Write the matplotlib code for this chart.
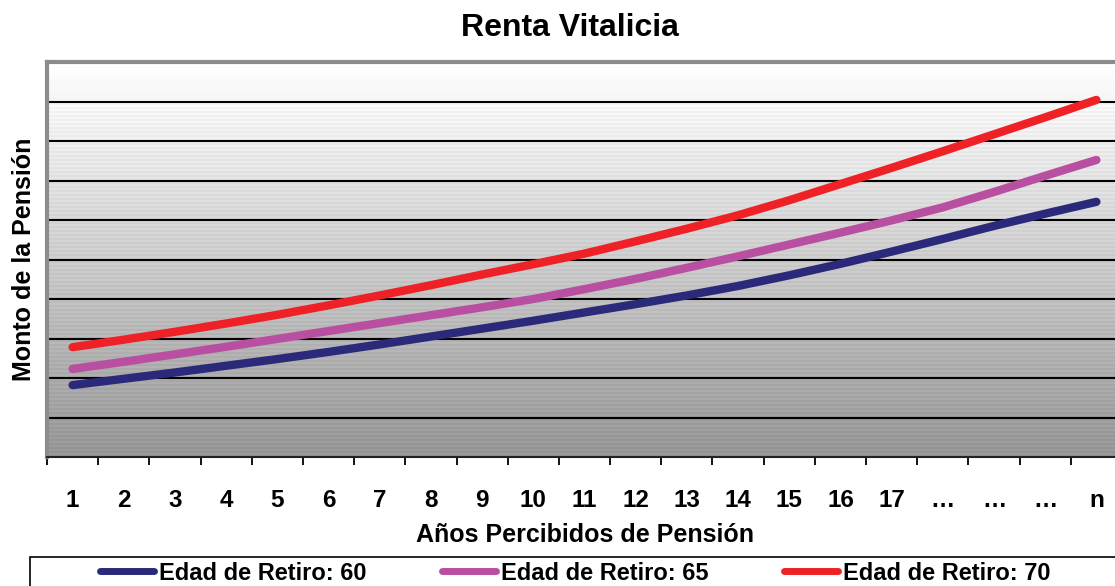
import matplotlib
matplotlib.use('Agg')
import matplotlib.pyplot as plt
from matplotlib.lines import Line2D
from matplotlib.patches import Rectangle
import numpy as np

plt.rcParams['font.family'] = ['Liberation Sans', 'DejaVu Sans']

# Años percibidos (categorías del eje x)
x_labels = [str(i) for i in range(1, 18)] + ['…', '…', '…', 'n']

# Monto de la pensión (unidades relativas)
retiro_60 = [1.82, 1.98, 2.14, 2.31, 2.48, 2.66, 2.85, 3.05, 3.25, 3.45, 3.66,
             3.87, 4.09, 4.33, 4.60, 4.89, 5.20, 5.52, 5.85, 6.16, 6.46]
retiro_65 = [2.23, 2.41, 2.60, 2.79, 2.99, 3.19, 3.39, 3.59, 3.79, 4.00, 4.25,
             4.51, 4.79, 5.08, 5.38, 5.68, 5.99, 6.32, 6.71, 7.12, 7.52]
retiro_70 = [2.78, 2.97, 3.17, 3.38, 3.60, 3.84, 4.09, 4.35, 4.62, 4.88, 5.15,
             5.46, 5.78, 6.12, 6.50, 6.91, 7.32, 7.74, 8.17, 8.60, 9.04]
series_names = ['Edad de Retiro: 60', 'Edad de Retiro: 65', 'Edad de Retiro: 70']
colors = ['#2B2A7A', '#B94FA0', '#EE2226']

fig = plt.figure(figsize=(11.15, 5.86), dpi=100)
fig.patch.set_facecolor('white')
ax = fig.add_axes([47/1115, 129/586, 1075/1115, 395/586])

x = np.arange(1, len(x_labels) + 1)
ax.set_xlim(0.5, len(x_labels) + 0.5)
ax.set_ylim(0, 10)

# gradient background with fine light stripes
rows = 200
shade = np.linspace(1.0, 0.60, rows) ** 1.1
stripes = np.where(np.arange(rows) % 2 == 0, 0.03, 0.0)
stripes[:20] = 0
img = np.clip(shade + stripes, 0, 1)[:, None]
ax.imshow(img, cmap='gray', vmin=0, vmax=1, aspect='auto',
          extent=[0.5, len(x_labels) + 0.5, 0, 10], origin='upper', zorder=0,
          interpolation='nearest')

for yv in range(1, 10):
    ax.axhline(yv, color='black', lw=1.5, zorder=1)

for vals, col in zip([retiro_60, retiro_65, retiro_70], colors):
    ax.plot(x, vals, color=col, lw=6, solid_capstyle='round', zorder=3)

# ticks
ax.set_xticks(x)
ax.set_xticklabels(x_labels, fontsize=17.5, fontweight='bold')
ax.tick_params(axis='x', which='major', length=0, pad=23)
ax.set_xticks(np.arange(0.5, len(x_labels) + 0.5, 1.0), minor=True)
ax.tick_params(axis='x', which='minor', length=6, width=1.3, color='black', direction='out')
ax.set_yticks([])

ax.spines['right'].set_visible(False)
ax.spines['top'].set_color('#8c8c8c')
ax.spines['top'].set_linewidth(3)
ax.spines['left'].set_color('#8c8c8c')
ax.spines['left'].set_linewidth(3)
ax.spines['bottom'].set_color('#222222')
ax.spines['bottom'].set_linewidth(1.5)

ax.set_xlabel('Años Percibidos de Pensión', fontsize=18, fontweight='bold', labelpad=8)
ax.set_ylabel('Monto de la Pensión', fontsize=18, fontweight='bold')
ax.yaxis.set_label_coords(-0.01, 0.5)

fig.text(570/1115, 1 - 28/586, 'Renta Vitalicia', fontsize=23, fontweight='bold',
         ha='center', va='center')

# legend box (runs off the bottom and right edges like the original)
fig.patches.append(Rectangle((30/1115, -0.1), 1.2, 0.1 + (586 - 557)/586,
                             transform=fig.transFigure, facecolor='white',
                             edgecolor='black', lw=1.2, zorder=0))
handles = [Line2D([0], [0], color=c, lw=5, solid_capstyle='round') for c in colors]
leg = fig.legend(handles, series_names, loc='center left', ncol=3,
                 bbox_to_anchor=(100/1115, 1 - 573/586), frameon=False,
                 fontsize=17, handlelength=2.3, columnspacing=3.2,
                 handletextpad=0.2, borderpad=0, borderaxespad=0)
for t in leg.get_texts():
    t.set_fontweight('bold')

fig.savefig('out.png', dpi=100, facecolor='white')
